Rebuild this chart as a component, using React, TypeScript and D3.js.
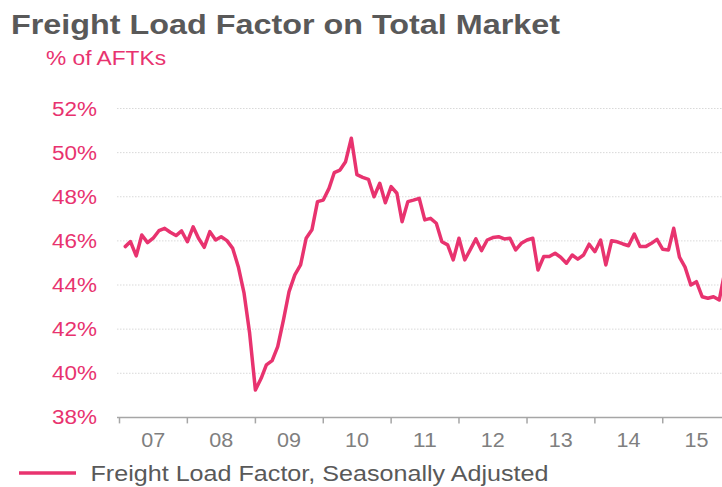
import React from 'react';
import * as d3 from 'd3';

// Monthly freight load factor (%), seasonally adjusted, starting Feb 2007
const startMonth = new Date(2007, 1, 1);
const loadFactor: number[] = [
  45.74, 45.97, 45.32, 46.27, 45.92, 46.12, 46.46, 46.57, 46.39, 46.24,
  46.45, 45.96, 46.64, 46.12, 45.71, 46.42, 46.04, 46.19, 46.01, 45.66,
  44.83, 43.63, 41.81, 39.24, 39.77, 40.38, 40.57, 41.21, 42.42, 43.70,
  44.46, 44.91, 46.12, 46.50, 47.78, 47.85, 48.38, 49.09, 49.21, 49.59,
  50.65, 49.0, 48.88, 48.79, 48.00, 48.61, 47.73, 48.46, 48.16, 46.87,
  47.78, 47.85, 47.93, 46.95, 47.02, 46.80, 45.96, 45.82, 45.14, 46.12,
  45.14, 45.59, 46.09, 45.56, 46.04, 46.15, 46.19, 46.09, 46.12, 45.59,
  45.89, 46.04, 46.12, 44.68, 45.29, 45.29, 45.44, 45.26, 44.99, 45.36,
  45.17, 45.36, 45.85, 45.51, 46.04, 44.91, 46.01, 45.96, 45.86, 45.78,
  46.31, 45.74, 45.74, 45.89, 46.07, 45.62, 45.59, 46.57, 45.26, 44.81,
  44.0, 44.15, 43.47, 43.40, 43.47, 43.32, 44.6,
];
const yTicks: number[] = [38, 40, 42, 44, 46, 48, 50, 52];
const yearLabels: string[] = ['07', '08', '09', '10', '11', '12', '13', '14', '15'];
const firstYear = 2007;

const title = 'Freight Load Factor on Total Market';
const subtitle = '% of AFTKs';
const seriesName = 'Freight Load Factor, Seasonally Adjusted';

const W = 722;
const H = 487;
const PINK = '#e8336f';
const FONT = '"Liberation Sans", Arial, sans-serif';

export default function App() {
  const x = d3
    .scaleTime()
    .domain([new Date(firstYear, 0, 1), new Date(firstYear + yearLabels.length, 0, 1)])
    .range([119.5, 730.6]);
  const y = d3.scaleLinear().domain([38, 52]).range([417.4, 108.5]);

  const data = loadFactor.map((v, i) => ({ date: d3.timeMonth.offset(startMonth, i), v }));
  const line = d3
    .line<{ date: Date; v: number }>()
    .x((d) => x(d.date))
    .y((d) => y(d.v));

  const yearStarts = yearLabels.map((_, i) => new Date(firstYear + i, 0, 1));
  const axisLeft = 117;

  return (
    <svg
      width={W}
      height={H}
      style={{ position: 'absolute', left: 0, top: 0, background: '#fff' }}
      fontFamily={FONT}
    >
      <text x={11} y={34} fontSize={28} fontWeight="bold" fill="#595959" textLength={549} lengthAdjust="spacingAndGlyphs">
        {title}
      </text>
      <text x={46} y={65} fontSize={19.5} fill={PINK} textLength={120} lengthAdjust="spacingAndGlyphs">
        {subtitle}
      </text>

      {/* gridlines */}
      {yTicks.filter((t) => t > 38).map((t) => (
        <line key={'g' + t} x1={axisLeft} x2={W} y1={y(t)} y2={y(t)} stroke="#d9d9d9" strokeWidth={1} strokeDasharray="1.5,1.5" />
      ))}

      {/* y labels */}
      {yTicks.map((t) => (
        <text
          key={'y' + t}
          x={97}
          y={y(t) + 7}
          fontSize={19.5}
          fill={PINK}
          textAnchor="end"
          textLength={45}
          lengthAdjust="spacingAndGlyphs"
        >
          {t + '%'}
        </text>
      ))}

      {/* x axis */}
      <line x1={axisLeft} x2={W} y1={y(38)} y2={y(38)} stroke="#a6a6a6" strokeWidth={1.5} />
      {yearStarts.map((d, i) => (
        <line key={'t' + i} x1={x(d)} x2={x(d)} y1={y(38)} y2={y(38) + 6} stroke="#a6a6a6" strokeWidth={1.5} />
      ))}
      {yearLabels.map((lab, i) => (
        <text
          key={'x' + lab}
          x={x(new Date(firstYear + i, 6, 1))}
          y={447}
          fontSize={19.5}
          fill="#7f7f7f"
          textAnchor="middle"
          textLength={24}
          lengthAdjust="spacingAndGlyphs"
        >
          {lab}
        </text>
      ))}

      {/* series */}
      <path d={line(data) || ''} fill="none" stroke={PINK} strokeWidth={3.5} strokeLinejoin="round" strokeLinecap="round" />

      {/* legend */}
      <line x1={19} x2={76} y1={473} y2={473} stroke={PINK} strokeWidth={3.5} />
      <text x={90.5} y={481} fontSize={22} fill="#595959" textLength={458} lengthAdjust="spacingAndGlyphs">
        {seriesName}
      </text>
    </svg>
  );
}
